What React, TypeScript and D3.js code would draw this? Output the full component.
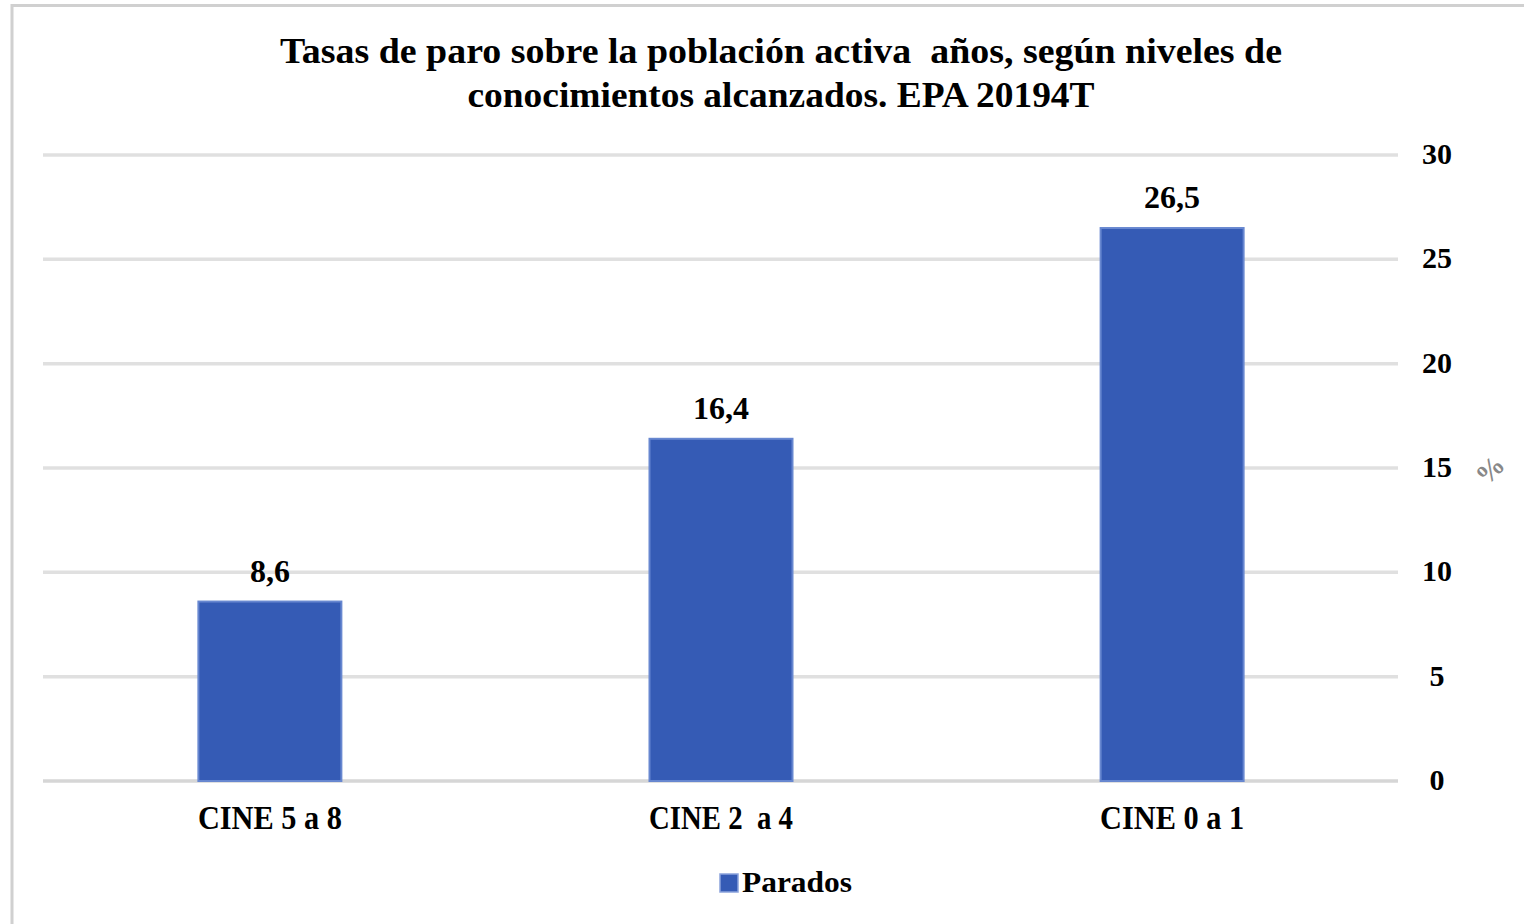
import React from "react";
import * as d3 from "d3";

const categories = ["CINE 5 a 8", "CINE 2  a 4", "CINE 0 a 1"];
const values = [8.6, 16.4, 26.5];
const valueLabels = ["8,6", "16,4", "26,5"];
const yTicks = [0, 5, 10, 15, 20, 25, 30];
const titleLines = [
  "Tasas de paro sobre la población activa  años, según niveles de",
  "conocimientos alcanzados. EPA 20194T",
];
const titleWidths = [1002, 627];
const seriesName = "Parados";

const W = 1524;
const H = 924;
const font = "'Liberation Serif', 'Times New Roman', serif";

export default function App() {
  const x = d3.scaleBand<string>().domain(categories).range([45, 1397]).paddingInner(0.683).paddingOuter(0.34);
  const y = d3.scaleLinear().domain([0, 30]).range([781, 155]);
  return (
    <svg width={W} height={H} style={{ position: "absolute", left: 0, top: 0, background: "#fff" }}>
      <rect x={12} y={5.5} width={W + 10} height={H + 10} fill="#fff" stroke="#d0d0d0" strokeWidth={3} />
      {titleLines.map((t, i) => (
        <text
          key={i}
          x={781}
          y={63 + i * 44}
          textAnchor="middle"
          fontFamily={font}
          fontWeight="bold"
          fontSize={35}
          fill="#000"
          textLength={titleWidths[i]}
          lengthAdjust="spacingAndGlyphs"
          style={{ whiteSpace: "pre" }}
        >
          {t}
        </text>
      ))}
      {yTicks.map((t) => (
        <g key={t}>
          <line x1={43} x2={1398} y1={y(t)} y2={y(t)} stroke={t === 0 ? "#d6d6d6" : "#e0e0e0"} strokeWidth={3.5} />
          <text x={1437} y={y(t) + 9} textAnchor="middle" fontFamily={font} fontWeight="bold" fontSize={30} fill="#000">
            {t}
          </text>
        </g>
      ))}
      <text x={1490} y={470} textAnchor="middle" dominantBaseline="central" fontFamily={font} fontWeight="bold" fontSize={28} fill="#888" transform="rotate(-45 1490 470)">
        %
      </text>
      {categories.map((c, i) => {
        const bx = x(c)!;
        const bw = x.bandwidth();
        return (
          <g key={c}>
            <rect x={bx} y={y(values[i])} width={bw} height={y(0) - y(values[i])} fill="#355bb5" stroke="#6787d0" strokeWidth={2} />
            <text x={bx + bw / 2} y={y(values[i]) - 20} textAnchor="middle" fontFamily={font} fontWeight="bold" fontSize={32} fill="#000">
              {valueLabels[i]}
            </text>
            <text x={bx + bw / 2} y={829} textAnchor="middle" fontFamily={font} fontWeight="bold" fontSize={34} fill="#000" textLength={144} lengthAdjust="spacingAndGlyphs" style={{ whiteSpace: "pre" }}>
              {c}
            </text>
          </g>
        );
      })}
      <rect x={720} y={874} width={18} height={18} fill="#355bb5" stroke="#8aa2dc" strokeWidth={1.5} />
      <text x={742} y={892} fontFamily={font} fontWeight="bold" fontSize={29} fill="#000" textLength={110} lengthAdjust="spacingAndGlyphs">
        {seriesName}
      </text>
    </svg>
  );
}
